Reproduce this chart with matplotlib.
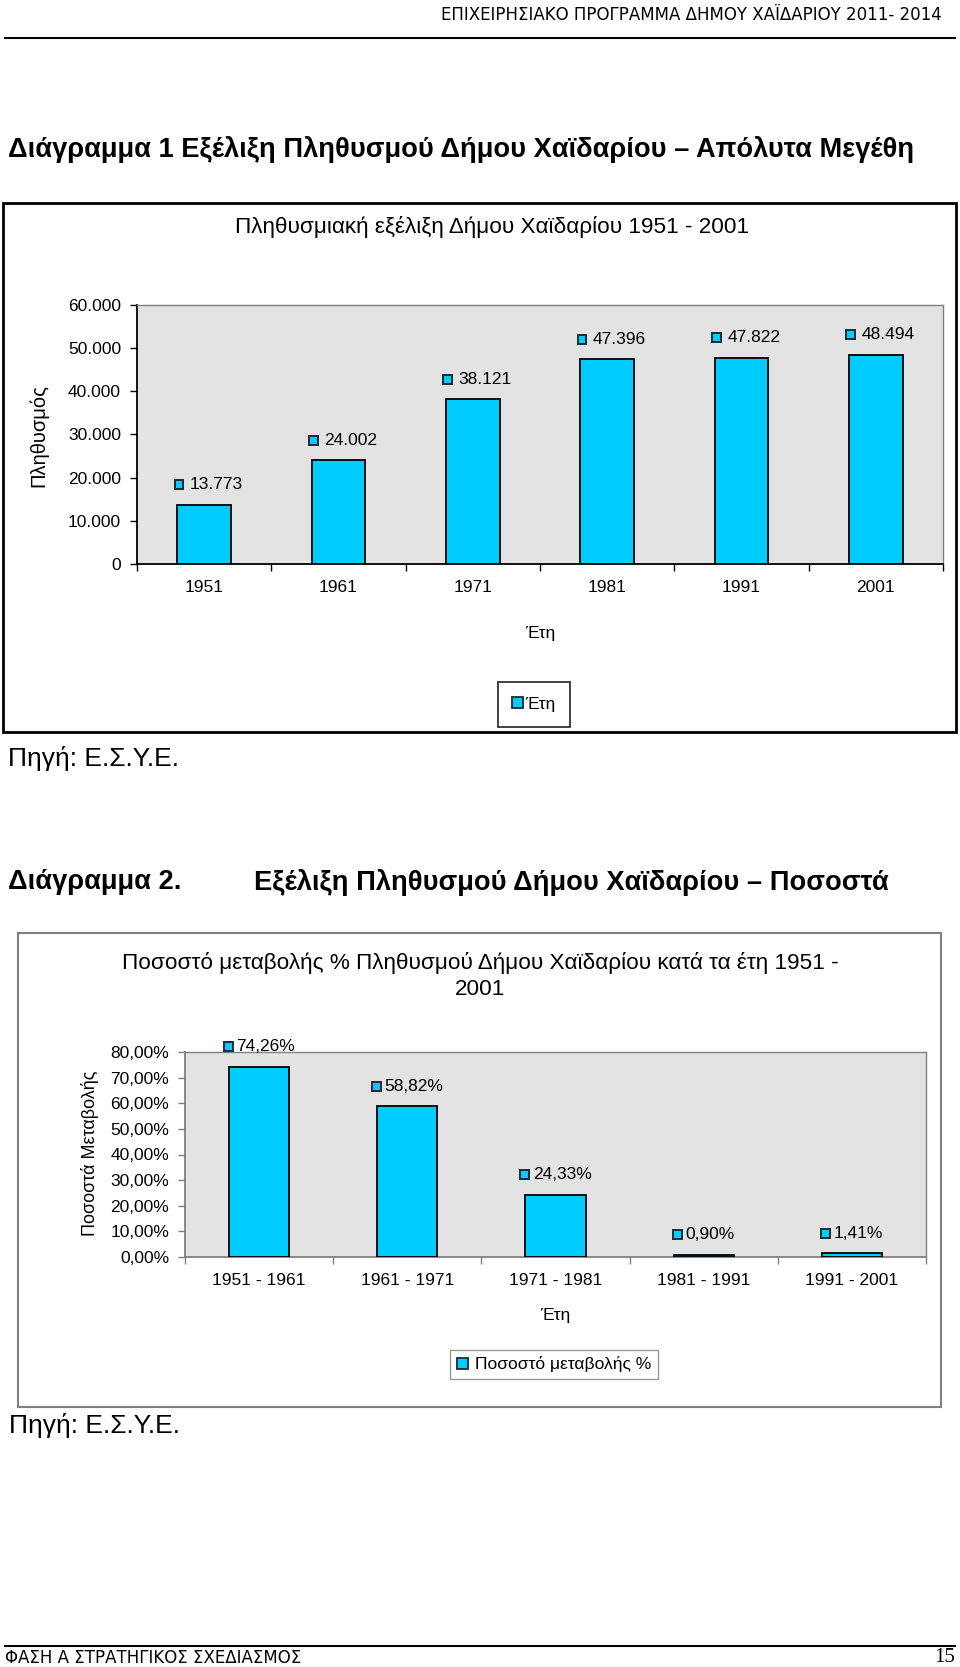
import matplotlib
matplotlib.use("Agg")
import matplotlib.pyplot as plt
from matplotlib.patches import Rectangle
from matplotlib.offsetbox import AnnotationBbox, HPacker, TextArea, DrawingArea
from matplotlib.ticker import FuncFormatter

plt.rcParams['font.family'] = ['Liberation Sans', 'DejaVu Sans']

# Chart 1: population by census year
years = ["1951", "1961", "1971", "1981", "1991", "2001"]
population = [13773, 24002, 38121, 47396, 47822, 48494]

# Chart 2: % change between censuses
periods = ["1951 - 1961", "1961 - 1971", "1971 - 1981", "1981 - 1991", "1991 - 2001"]
change_pct = [74.26, 58.82, 24.33, 0.90, 1.41]

W, H = 960, 1667
BAR = "#00ccff"
PLOT_BG = "#e3e3e3"
FS = 12.5

fig = plt.figure(figsize=(W / 100, H / 100), dpi=100)

# page layer, pixel coordinates, y down
page = fig.add_axes([0, 0, 1, 1])
page.set_xlim(0, W)
page.set_ylim(H, 0)
page.axis("off")


def px_axes(left, top, right, bottom):
    return fig.add_axes([left / W, 1 - bottom / H, (right - left) / W, (bottom - top) / H])


def thousands(v, pos=None):
    return f"{int(round(v)):,}".replace(",", ".")


def pct(v, pos=None):
    return f"{v:.2f}".replace(".", ",") + "%"


def bar_label(ax, x, y, text, dx, sep):
    key = DrawingArea(7.6, 7.6, 0, 0)
    key.add_artist(Rectangle((0.6, 0.6), 6.4, 6.4, facecolor=BAR, edgecolor="#1a2a33", lw=1.4))
    label = TextArea(text, textprops=dict(fontsize=FS))
    pack = HPacker(children=[key, label], align="center", pad=0, sep=sep)
    ab = AnnotationBbox(pack, (x, y), xybox=(dx, 14.5), boxcoords="offset points",
                        frameon=False, box_alignment=(0.5, 0.5), annotation_clip=False)
    ax.add_artist(ab)


def style_axes(ax, n, axis_color):
    ax.set_facecolor(PLOT_BG)
    ax.set_xlim(-0.5, n - 0.5)
    for side in ("top", "right"):
        ax.spines[side].set_color("#808080")
        ax.spines[side].set_linewidth(1)
    for side in ("left", "bottom"):
        ax.spines[side].set_color(axis_color)
        ax.spines[side].set_linewidth(1.3)
    ax.set_xticks([i - 0.5 for i in range(n + 1)], minor=True)
    ax.tick_params(axis="x", which="major", length=0, pad=11.5, labelsize=FS)
    ax.tick_params(axis="x", which="minor", length=5, width=1, direction="out", color=axis_color)
    ax.tick_params(axis="y", length=5, width=1, direction="out", color=axis_color, pad=6.5, labelsize=FS)


# ---- page header / footer ----
page.text(942, 15, "ΕΠΙΧΕΙΡΗΣΙΑΚΟ ΠΡΟΓΡΑΜΜΑ ΔΗΜΟΥ ΧΑΪΔΑΡΙΟΥ 2011- 2014", ha="right", va="center",
          fontsize=12, family=["DejaVu Sans"])
page.plot([5, 955], [38, 38], color="black", lw=1.5)
page.plot([5, 955], [1646, 1646], color="black", lw=1.5)
page.text(5, 1658, "ΦΑΣΗ Α ΣΤΡΑΤΗΓΙΚΟΣ ΣΧΕΔΙΑΣΜΟΣ", ha="left", va="center", fontsize=12,
          family=["DejaVu Sans"])
page.text(955, 1657, "15", ha="right", va="center", fontsize=15, family=["Liberation Serif"])

# ---- chart 1 ----
page.text(8, 149, "Διάγραμμα 1 Εξέλιξη Πληθυσμού Δήμου Χαϊδαρίου – Απόλυτα Μεγέθη",
          ha="left", va="center", fontsize=19.6, fontweight="bold")
page.add_patch(Rectangle((3, 203), 953, 529, fill=False, edgecolor="black", lw=2))
page.text(492, 227, "Πληθυσμιακή εξέλιξη Δήμου Χαϊδαρίου 1951 - 2001", ha="center", va="center",
          fontsize=16.2)
page.text(39, 436, "Πληθυσμός", rotation=90, ha="center", va="center", fontsize=14.5)
page.text(540, 633, "Έτη", ha="center", va="center", fontsize=FS)
page.text(8, 758, "Πηγή: Ε.Σ.Υ.Ε.", ha="left", va="center", fontsize=19)

ax1 = px_axes(137, 305, 943, 564)
x1 = list(range(len(years)))
ax1.bar(x1, population, width=0.4, color=BAR, edgecolor="black", linewidth=1.3, zorder=3,
        label="Έτη")
style_axes(ax1, len(years), "black")
ax1.set_ylim(0, 60000)
ax1.set_yticks(range(0, 60001, 10000))
ax1.yaxis.set_major_formatter(FuncFormatter(thousands))
ax1.set_xticks(x1)
ax1.set_xticklabels(years)
for x, v in zip(x1, population):
    bar_label(ax1, x, v, thousands(v), 3, 4)

leg1 = ax1.legend(loc="center", bbox_to_anchor=(534 / W, 1 - 704.5 / H), bbox_transform=fig.transFigure,
                  fontsize=FS, frameon=True, fancybox=False, borderpad=0.85, handlelength=0.6,
                  handleheight=0.6, handletextpad=0.15, borderaxespad=0)
leg1.get_frame().set_edgecolor("black")
leg1.get_frame().set_linewidth(1.3)
leg1.legend_handles[0].set_edgecolor("#1a2a33")

# ---- chart 2 ----
page.text(8, 882, "Διάγραμμα 2.", ha="left", va="center", fontsize=19.6, fontweight="bold")
page.text(254, 882, "Εξέλιξη Πληθυσμού Δήμου Χαϊδαρίου – Ποσοστά", ha="left", va="center",
          fontsize=19.6, fontweight="bold")
page.add_patch(Rectangle((18, 933), 923, 474, fill=False, edgecolor="#808080", lw=1.5))
page.text(480, 976, "Ποσοστό μεταβολής % Πληθυσμού Δήμου Χαϊδαρίου κατά τα έτη 1951 -\n2001",
          ha="center", va="center", multialignment="center", fontsize=16.2, linespacing=1.3)
page.text(90, 1153, "Ποσοστά Μεταβολής", rotation=90, ha="center", va="center", fontsize=13)
page.text(555, 1315, "Έτη", ha="center", va="center", fontsize=FS)
page.text(9, 1425, "Πηγή: Ε.Σ.Υ.Ε.", ha="left", va="center", fontsize=19)

ax2 = px_axes(185, 1052, 926, 1257)
x2 = list(range(len(periods)))
ax2.bar(x2, change_pct, width=0.405, color=BAR, edgecolor="black", linewidth=1.3, zorder=3,
        label="Ποσοστό μεταβολής %")
style_axes(ax2, len(periods), "#808080")
ax2.set_ylim(0, 80)
ax2.set_yticks(range(0, 81, 10))
ax2.yaxis.set_major_formatter(FuncFormatter(pct))
ax2.set_xticks(x2)
ax2.set_xticklabels(periods)
for x, v in zip(x2, change_pct):
    bar_label(ax2, x, v, pct(v), 0, 2)

leg2 = ax2.legend(loc="center", bbox_to_anchor=(554 / W, 1 - 1364.5 / H), bbox_transform=fig.transFigure,
                  fontsize=FS, frameon=True, fancybox=False, borderpad=0.4, handlelength=0.6,
                  handleheight=0.6, handletextpad=0.4, borderaxespad=0)
leg2.get_frame().set_edgecolor("#808080")
leg2.get_frame().set_linewidth(1)
leg2.legend_handles[0].set_edgecolor("#1a2a33")

fig.savefig("out.png", dpi=100)
